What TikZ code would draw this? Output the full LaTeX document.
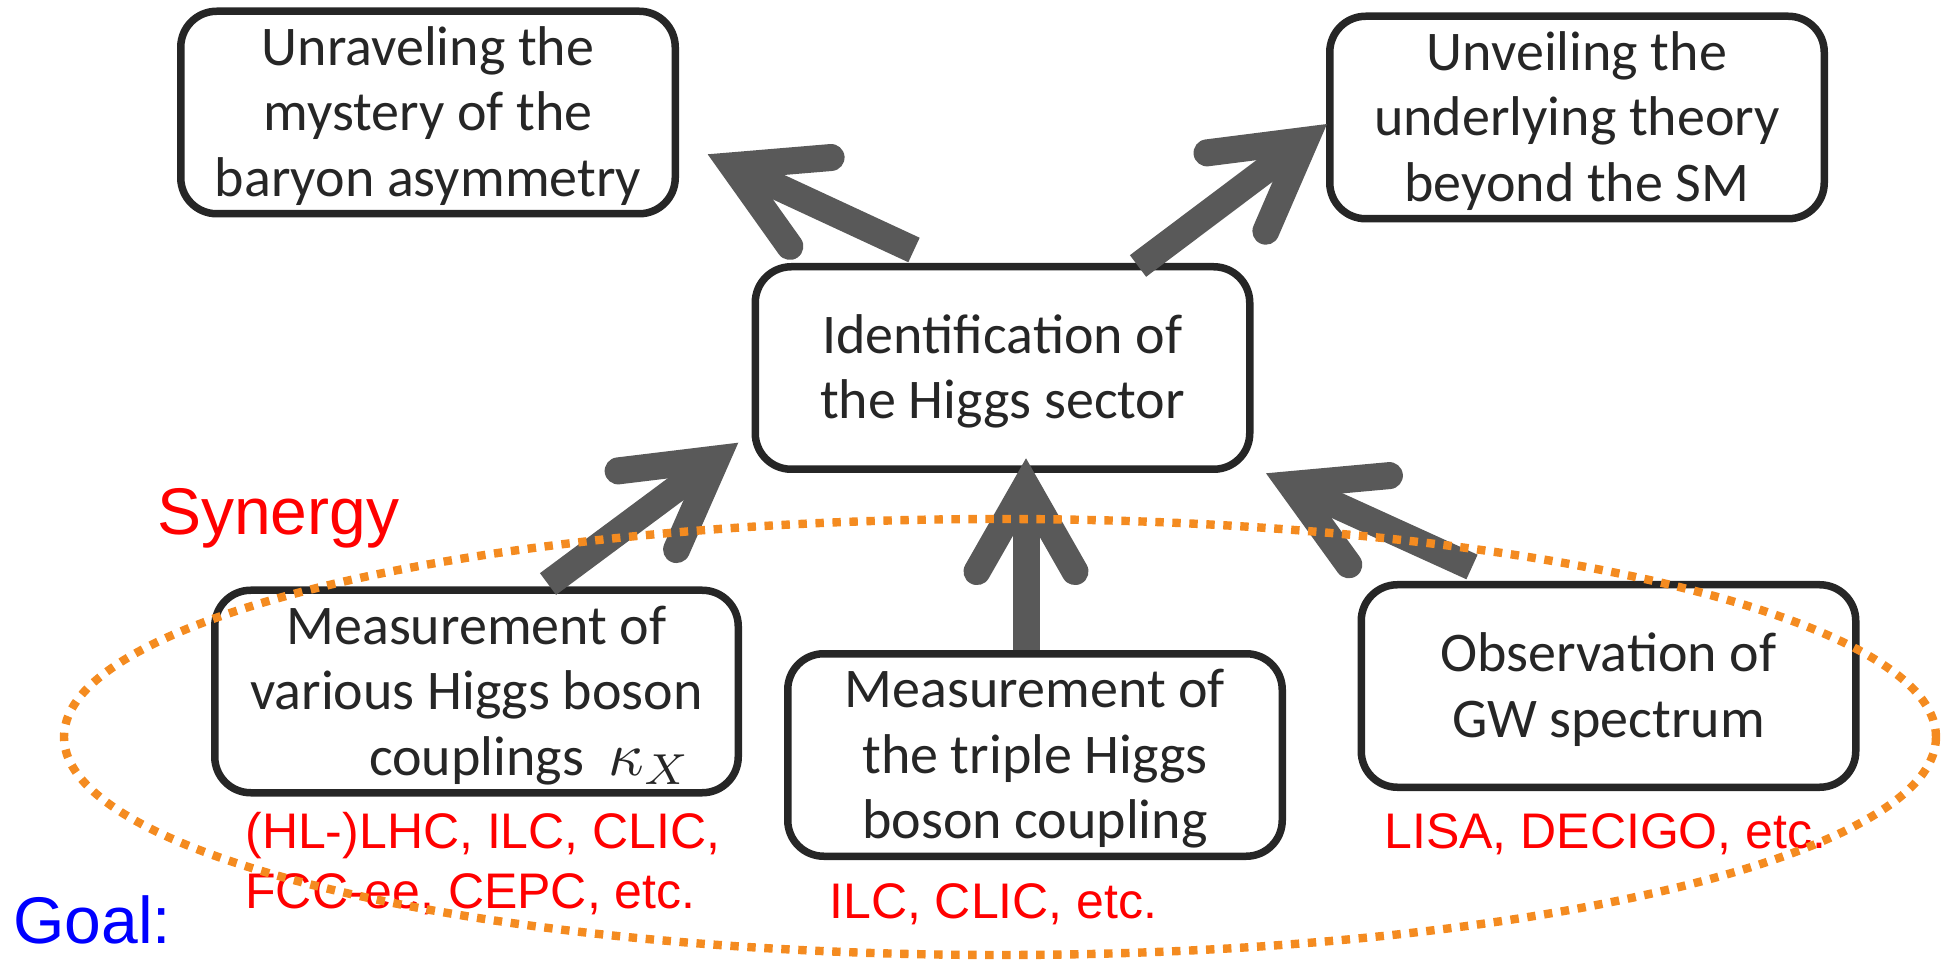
\documentclass[tikz,border=0pt]{standalone}
\usepackage{fontspec}
\setmainfont{Carlito}
\newfontfamily\arialf{Liberation Sans}
\usetikzlibrary{arrows.meta,calc}
\definecolor{boxline}{HTML}{262626}
\definecolor{arrowgray}{HTML}{595959}
\definecolor{synorange}{RGB}{244,139,32}
\newcommand{\kapX}{{\fontsize{10}{12}\selectfont\scalebox{3.1}{$\kappa_X$}}}
\newcommand{\bxtop}{\rule{0pt}{26pt}}
\newcommand{\bxbot}{\rule[-7.75pt]{0pt}{0pt}}
\begin{document}
\begin{tikzpicture}[x=0.5pt,y=-0.5pt,
  box/.style={draw=boxline, line width=3.75pt, rounded corners=18pt, fill=white,
    minimum width=247.25pt, minimum height=101.25pt, align=center, inner sep=0pt,
    text=boxline, font=\fontsize{28}{32.75}\selectfont},
  bigarrow/.style={draw=arrowgray, line width=13.5pt,
    -{Straight Barb[length=43pt, width=49pt, line cap=round, line join=miter]}},
  redlab/.style={text=red, font=\arialf\fontsize{25}{30}\selectfont, inner sep=0pt, align=left, anchor=base west},
  biglab/.style={font=\arialf\fontsize{33}{36}\selectfont, inner sep=0pt, anchor=base west},
  synergyline/.style={draw=synorange, line width=4.2pt, dash pattern=on 4.2pt off 4.3pt},
]
\useasboundingbox (0,0) rectangle (1945,962);

\node[box] (A) at (428,112.5) {\bxtop Unraveling the\\mystery of the\\baryon asymmetry\bxbot};
\node[box] (B) at (1577,117.5) {\bxtop Unveiling the\\underlying theory\\beyond the SM\bxbot};
\node[box] (H) at (1002.5,368) {\bxtop Identification of\\the Higgs sector\bxbot};
\node[box, minimum width=261.75pt] (K) at (476.5,691.5) {\bxtop Measurement of\\various Higgs boson\\\hspace*{53.5pt}couplings\hspace{12pt}\kapX\bxbot};
\node[box] (T) at (1035,755) {\bxtop Measurement of\\the triple Higgs\\boson coupling\bxbot};
\node[box] (G) at (1608.5,686) {\bxtop Observation of\\GW spectrum\bxbot};

\node[redlab] (Klab) at (245,908) {(HL-)LHC, ILC, CLIC,\\FCC-ee, CEPC, etc.};
\node[redlab] (Tlab) at (829,918) {ILC, CLIC, etc.};
\node[redlab] (Glab) at (1384,848) {LISA, DECIGO, etc.};
\node[biglab, text=red] (syn) at (156.7,535) {Synergy};
\node[biglab, text=blue] (goal) at (13,943) {Goal:};

\coordinate (tA) at (707.7,154.3);
\coordinate (tB) at (1327,124);
\coordinate (tK) at (738.3,442.7);
\coordinate (tT) at (1026,458.3);
\coordinate (tG) at (1266,473.3);

\draw[bigarrow] ($(H.north)+(-88.5,-13)$) -- (tA);
\draw[bigarrow] ($(H.north)+(135.5,3)$) -- (tB);
\draw[bigarrow] ($(K.north)+(71.5,-2.5)$) -- (tK);
\draw[bigarrow] (T.north -| tT) -- (tT);
\draw[bigarrow] ($(G.north)+(-136.5,-14)$) -- (tG);

\draw[synergyline] (1000,737) ellipse [x radius=936, y radius=218];
\end{tikzpicture}
\end{document}
